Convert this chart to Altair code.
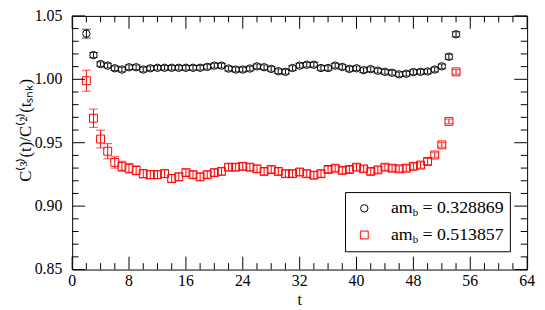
import altair as alt
import pandas as pd

# ---- data ----
t_vals = list(range(2, 55))

v_black = [1.0360, 1.0191, 1.0120, 1.0108, 1.0087, 1.0077, 1.0095, 1.0095, 1.0077, 1.0087,
           1.0091, 1.0091, 1.0091, 1.0091, 1.0091, 1.0091, 1.0091, 1.0098, 1.0108, 1.0108,
           1.0085, 1.0077, 1.0077, 1.0085, 1.0102, 1.0095, 1.0082, 1.0064, 1.0059, 1.0089,
           1.0108, 1.0115, 1.0115, 1.0089, 1.0089, 1.0108, 1.0097, 1.0082, 1.0087, 1.0072,
           1.0080, 1.0068, 1.0059, 1.0052, 1.0039, 1.0044, 1.0057, 1.0059, 1.0062, 1.0077,
           1.0102, 1.0178, 1.0355]
e_black = [0.0035, 0.0020] + [0.0018] * 49 + [0.0020, 0.0020]

v_red = [0.9989, 0.9693, 0.9529, 0.9433, 0.9345, 0.9314, 0.9299, 0.9282, 0.9256, 0.9248,
         0.9248, 0.9256, 0.9218, 0.9231, 0.9264, 0.9248, 0.9231, 0.9248, 0.9264, 0.9274,
         0.9307, 0.9307, 0.9314, 0.9307, 0.9294, 0.9274, 0.9289, 0.9274, 0.9256, 0.9256,
         0.9269, 0.9256, 0.9244, 0.9256, 0.9289, 0.9299, 0.9282, 0.9289, 0.9307, 0.9294,
         0.9274, 0.9286, 0.9307, 0.9299, 0.9294, 0.9299, 0.9314, 0.9324, 0.9352, 0.9403,
         0.9483, 0.9668, 1.0059]
e_red = [0.0083, 0.0072, 0.0070, 0.0060, 0.0045, 0.0040, 0.0038, 0.0035, 0.0033, 0.0032,
         0.0030, 0.0030, 0.0030, 0.0030] + [0.0027] * 20 + [0.0024] * 15 + [0.0018] * 4

x_major = [0, 8, 16, 24, 32, 40, 48, 56, 64]
x_labels = ["0", "8", "16", "24", "32", "40", "48", "56", "64"]
x_minor = [2, 4, 6, 10, 12, 14, 18, 20, 22, 26, 28, 30, 34, 36, 38, 42, 44, 46, 50, 52, 54, 58, 60, 62]
y_major = [0.85, 0.90, 0.95, 1.00, 1.05]
y_labels = ["0.85", "0.90", "0.95", "1.00", "1.05"]
y_minor = [0.86, 0.87, 0.88, 0.89, 0.91, 0.92, 0.93, 0.94, 0.96, 0.97, 0.98, 0.99,
           1.01, 1.02, 1.03, 1.04]

legend_labels = ["0.328869", "0.513857"]
x_title = "t"
y_title = "C⁽³⁾(t)/C⁽²⁾(tₛₙₖ)"

# ---- layout constants ----
W, H = 461, 257
TOP = 6
FONT = "Liberation Serif"
MAJ, MIN = 13, 6.5

df = pd.DataFrame({
    "t": t_vals * 2,
    "v": v_black + v_red,
    "lo": [v - e for v, e in zip(v_black, e_black)] + [v - e for v, e in zip(v_red, e_red)],
    "hi": [v + e for v, e in zip(v_black, e_black)] + [v + e for v, e in zip(v_red, e_red)],
    "s": ["black"] * len(t_vals) + ["red"] * len(t_vals),
})

xs = alt.Scale(domain=[0, 64], nice=False, zero=False)
ys = alt.Scale(domain=[0.85, 1.05], nice=False, zero=False)

def X(field):
    return alt.X(field + ":Q", scale=xs, axis=None)

def Y(field):
    return alt.Y(field + ":Q", scale=ys, axis=None)

color_scale = alt.Scale(domain=["black", "red"], range=["black", "red"])
col = alt.Color("s:N", scale=color_scale, legend=None)

base = alt.Chart(df)

err = base.mark_rule(strokeWidth=1).encode(x=X("t"), y=Y("lo"), y2="hi:Q", color=col)
cap_lo = base.mark_tick(orient="horizontal", size=9, thickness=1).encode(
    x=X("t"), y=Y("lo"), color=col)
cap_hi = base.mark_tick(orient="horizontal", size=9, thickness=1).encode(
    x=X("t"), y=Y("hi"), color=col)
pts_black = base.transform_filter(alt.datum.s == "black").mark_point(
    shape="circle", filled=False, size=56, strokeWidth=1, color="black", opacity=1
).encode(x=X("t"), y=Y("v"))
pts_red = base.transform_filter(alt.datum.s == "red").mark_point(
    shape="square", filled=False, size=64, strokeWidth=1, color="red", opacity=1
).encode(x=X("t"), y=Y("v"))

# ---- inward ticks on all four sides ----
def xticks(vals, length):
    d = alt.Chart(pd.DataFrame({"t": vals}))
    bot = d.mark_rule(color="black", strokeWidth=1).encode(
        x=X("t"), y=alt.value(H), y2=alt.value(H - length))
    top = d.mark_rule(color="black", strokeWidth=1).encode(
        x=X("t"), y=alt.value(0), y2=alt.value(length))
    return [bot, top]

def yticks(vals, length):
    d = alt.Chart(pd.DataFrame({"v": vals}))
    left = d.mark_rule(color="black", strokeWidth=1).encode(
        y=Y("v"), x=alt.value(0), x2=alt.value(length))
    right = d.mark_rule(color="black", strokeWidth=1).encode(
        y=Y("v"), x=alt.value(W), x2=alt.value(W - length))
    return [left, right]

ticks = xticks(x_major, MAJ) + xticks(x_minor, MIN) + yticks(y_major, MAJ) + yticks(y_minor, MIN)

# ---- tick labels and axis titles (serif text) ----
xlab = alt.Chart(pd.DataFrame({"t": x_major, "lab": x_labels})).mark_text(
    font=FONT, fontSize=16, align="center", baseline="top", color="black"
).encode(x=X("t"), y=alt.value(H + 4), text="lab:N")
ylab = alt.Chart(pd.DataFrame({"v": y_major, "lab": y_labels})).mark_text(
    font=FONT, fontSize=16, align="right", baseline="middle", color="black"
).encode(y=Y("v"), x=alt.value(-10), text="lab:N")

one = alt.Chart(pd.DataFrame({"k": [0]}))
xtit = one.mark_text(font=FONT, fontSize=16, align="center", baseline="middle",
                     color="black").encode(
    x=alt.value(W / 2), y=alt.value(H + 31), text=alt.value(x_title))
ytit = one.mark_text(font=FONT, fontSize=17, align="center", baseline="middle",
                     angle=270, color="black").encode(
    x=alt.value(-47), y=alt.value(116), text=alt.value(y_title))

# ---- legend box ----
box = one.mark_rect(fill="white", stroke="black", strokeWidth=1).encode(
    x=alt.value(277), x2=alt.value(444), y=alt.value(179), y2=alt.value(239))
leg_c = one.mark_point(shape="circle", filled=False, size=56, strokeWidth=1, color="black",
                       opacity=1).encode(x=alt.value(296), y=alt.value(195))
leg_s = one.mark_point(shape="square", filled=False, size=64, strokeWidth=1, color="red",
                       opacity=1).encode(x=alt.value(296), y=alt.value(222))
leg_text = []
for i, lab in enumerate(legend_labels):
    yb = 200 + 27 * i
    leg_text.append(one.mark_text(font=FONT, fontSize=18, align="left", baseline="alphabetic",
                                  color="black").encode(
        x=alt.value(323), y=alt.value(yb), text=alt.value("am")))
    leg_text.append(one.mark_text(font=FONT, fontSize=11, align="left", baseline="alphabetic",
                                  color="black").encode(
        x=alt.value(345), y=alt.value(yb + 3), text=alt.value("b")))
    leg_text.append(one.mark_text(font=FONT, fontSize=18, align="left", baseline="alphabetic",
                                  color="black").encode(
        x=alt.value(355), y=alt.value(yb), text=alt.value("= " + lab)))

chart = alt.layer(
    err, cap_lo, cap_hi, pts_black, pts_red, *ticks, xlab, ylab, xtit, ytit,
    box, leg_c, leg_s, *leg_text
).properties(
    width=W, height=H, background="white",
    autosize=alt.AutoSizeParams(type="none"),
    padding={"left": 65, "top": TOP, "right": 10, "bottom": 40},
).configure_view(
    stroke="black", strokeWidth=1
)

chart.save("out.html", embed_options={"renderer": "svg", "actions": False})
